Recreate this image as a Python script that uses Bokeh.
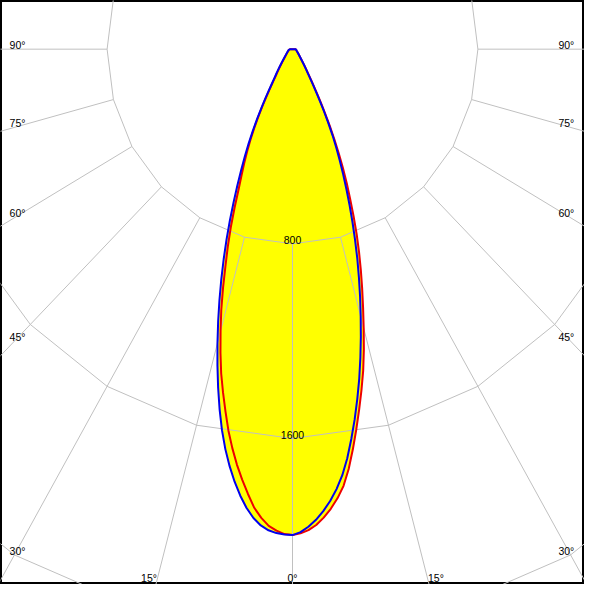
import numpy as np
from bokeh.plotting import figure
from bokeh.models import Range1d
from bokeh.embed import file_html
from bokeh.resources import INLINE
from bokeh.core.properties import value

# ---------------- data (luminous intensity, cd) ----------------
gamma = list(range(0, 36)) + [37.5, 40, 45, 50, 60, 70, 80, 90]
c270_blue = [1997, 1995, 1990, 1980, 1962, 1934, 1896, 1849, 1795, 1735,
             1669, 1595, 1513, 1427, 1339, 1251, 1164, 1078, 994, 912,
             832, 754, 679, 609, 545, 487, 432, 378, 326, 278,
             236, 200, 170, 148, 132, 120,
             92, 72, 50, 38, 26, 20, 16, 14]
c90_blue = [1997, 1985, 1964, 1937, 1903, 1864, 1818, 1764, 1698, 1622,
            1545, 1465, 1385, 1302, 1219, 1137, 1058, 980, 905, 829,
            757, 688, 622, 560, 502, 448, 395, 340, 290, 245,
            207, 177, 152, 132, 116, 104,
            82, 66, 46, 36, 25, 19, 16, 14]
c180_red = [1997, 1993, 1980, 1962, 1931, 1892, 1838, 1782, 1724, 1660,
            1592, 1516, 1442, 1368, 1285, 1199, 1115, 1025, 936, 857,
            778, 697, 620, 562, 512, 462, 413, 364, 315, 267,
            226, 190, 160, 138, 122, 110,
            86, 68, 48, 37, 25, 19, 16, 14]
c0_red = [1997, 1990, 1978, 1958, 1930, 1896, 1856, 1808, 1742, 1665,
          1586, 1508, 1432, 1356, 1273, 1187, 1105, 1028, 954, 882,
          810, 736, 664, 600, 535, 472, 412, 356, 302, 256,
          216, 184, 158, 137, 121, 108,
          84, 66, 46, 36, 25, 19, 16, 14]

ring_values = [800, 1600, 2400]
ring_labels = ["800", "1600"]
side_labels = ["90°", "75°", "60°", "45°", "30°"]
side_label_angles = [90, 75, 60, 45, 30]
bottom_labels = ["15°", "0°", "15°"]
bottom_label_angles = [-15, 0, 15]

# ---------------- layout ----------------
W = H = 584
XR = (-1260, 1260)
YR = (-2200, 200)
SX = (XR[1] - XR[0]) / 600.0   # data units per reference pixel (x)
SY = (YR[1] - YR[0]) / 600.0   # data units per reference pixel (y)


def rx(px):
    return XR[0] + px * SX


def ry(py):
    return YR[1] - py * SY


p = figure(width=W, height=H, x_range=Range1d(*XR), y_range=Range1d(*YR),
           output_backend="svg", toolbar_location=None, min_border=0)
p.axis.visible = False
p.grid.visible = False
p.outline_line_color = "black"
p.outline_line_width = 3
p.background_fill_color = "white"
p.border_fill_color = "white"


def lobe(left, right):
    g = np.radians(gamma)
    L = np.array(left, dtype=float)
    R = np.array(right, dtype=float)
    xs = np.concatenate([-(L * np.sin(g))[::-1], (R * np.sin(g))[1:]])
    ys = np.concatenate([-(L * np.cos(g))[::-1], -(R * np.cos(g))[1:]])
    return xs, ys


bx, by = lobe(c270_blue, c90_blue)
rxs, rys = lobe(c180_red, c0_red)

# yellow fill
p.patch(rxs, rys, fill_color="#ffff00", line_color=None)
p.patch(bx, by, fill_color="#ffff00", line_color=None)

# grid rings (polygons with 15 degree vertices)
t = np.radians(np.arange(0, 361, 15))
ring_xs = [list(r * np.sin(t)) for r in ring_values]
ring_ys = [list(-r * np.cos(t)) for r in ring_values]
p.multi_line(ring_xs, ring_ys, line_color="#c0c0c0", line_width=1)

# radial lines from the first ring outwards
ang = np.radians([a for a in range(-90, 91, 15)])
r0, r1 = ring_values[0], 5000
p.segment(x0=r0 * np.sin(ang), y0=-r0 * np.cos(ang),
          x1=r1 * np.sin(ang), y1=-r1 * np.cos(ang),
          line_color="#c0c0c0", line_width=1)

font = value("Liberation Sans")
fs = "10.5px"

# ring labels
p.text(x=[0] * len(ring_labels), y=[-v + 3.5 * SY for v in ring_values[:len(ring_labels)]],
       text=ring_labels, text_font=font, text_font_size=fs, text_color="black",
       text_align="center", text_baseline="alphabetic")

# side angle labels (left and right)
ly = [ry(50 + 300 / np.tan(np.radians(a)) - 4.4) if a != 90 else ry(50 - 4.4)
      for a in side_label_angles]
p.text(x=[rx(9.3)] * len(side_labels), y=ly, text=side_labels, text_font=font,
       text_font_size=fs, text_color="black", text_align="left",
       text_baseline="alphabetic")
p.text(x=[rx(589.5)] * len(side_labels), y=ly, text=side_labels, text_font=font,
       text_font_size=fs, text_color="black", text_align="right",
       text_baseline="alphabetic")

# bottom angle labels
bxl = [rx(300 + 550 * np.tan(np.radians(a))) for a in bottom_label_angles]
p.text(x=bxl, y=[ry(593.5)] * len(bottom_labels), text=bottom_labels, text_font=font,
       text_font_size=fs, text_color="black", text_align="center",
       text_baseline="alphabetic")

# curves
p.line(np.append(rxs, rxs[0]), np.append(rys, rys[0]), line_color="#ee0000",
       line_width=2, line_join="round")
p.line(np.append(bx, bx[0]), np.append(by, by[0]), line_color="#0000ee",
       line_width=2, line_join="round")

open("out.html", "w").write(file_html(p, INLINE))
